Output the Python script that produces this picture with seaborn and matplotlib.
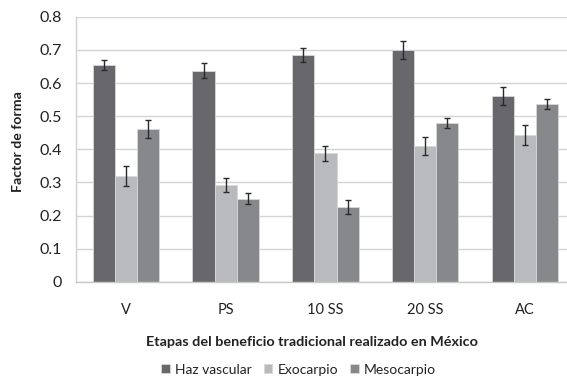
import numpy as np
import pandas as pd
import matplotlib
matplotlib.use("Agg")
import matplotlib.pyplot as plt
import seaborn as sns

etapas = ["V", "PS", "10 SS", "20 SS", "AC"]
tejidos = ["Haz vascular", "Exocarpio", "Mesocarpio"]

haz_vascular = [0.654, 0.637, 0.684, 0.700, 0.562]
exocarpio = [0.319, 0.292, 0.388, 0.410, 0.442]
mesocarpio = [0.460, 0.251, 0.226, 0.478, 0.537]

err_haz = [0.014, 0.022, 0.021, 0.027, 0.027]
err_exo = [0.030, 0.022, 0.023, 0.028, 0.030]
err_meso = [0.027, 0.016, 0.020, 0.015, 0.015]

colores = ["#68686c", "#b9babd", "#87888c"]

sns.set_theme(style="white")
plt.rcParams["font.family"] = ["Lato", "DejaVu Sans"]

df = pd.DataFrame({
    "etapa": etapas * 3,
    "tejido": sum([[t] * len(etapas) for t in tejidos], []),
    "valor": haz_vascular + exocarpio + mesocarpio,
})
errores = err_haz + err_exo + err_meso

fig = plt.figure(figsize=(5.67, 3.79), dpi=100)
# plot area runs slightly past the right edge of the figure
ax = fig.add_axes([0.134, 0.256, 0.880, 0.70])

sns.barplot(data=df, x="etapa", y="valor", hue="tejido", order=etapas,
            hue_order=tejidos, palette=colores, width=0.665, errorbar=None,
            edgecolor="#d8d8d8", linewidth=0.6, saturation=1, ax=ax, zorder=2)

# error bars centred on each drawn bar
for patch, v, e in zip(ax.patches[:15], df["valor"], errores):
    cx = patch.get_x() + patch.get_width() / 2
    ax.errorbar(cx, patch.get_height(), yerr=e, fmt="none", ecolor="#2a2a2a",
                elinewidth=1.0, capsize=2.2, capthick=1.0, zorder=3)

ax.set_ylim(0, 0.8)
ax.set_xlim(-0.5, len(etapas) - 0.5)
ax.set_yticks(np.arange(0, 0.81, 0.1))
ax.set_yticklabels(["0"] + [f"{v:.1f}" for v in np.arange(0.1, 0.81, 0.1)])
ax.yaxis.grid(True, color="#d4d4d4", linewidth=1.0, zorder=0)
ax.set_axisbelow(True)

for s in ["top", "right"]:
    ax.spines[s].set_visible(False)
ax.spines["left"].set_color("#d0d0d0")
ax.spines["bottom"].set_color("#c8c8c8")
ax.spines["left"].set_linewidth(1.0)
ax.spines["bottom"].set_linewidth(1.0)

ax.tick_params(axis="y", length=0, labelsize=11.5, colors="#222222", pad=10)
ax.tick_params(axis="x", which="major", length=0, labelsize=10.5,
               colors="#222222", pad=15)
ax.set_xticks(np.arange(-0.5, len(etapas), 1.0), minor=True)
ax.tick_params(axis="x", which="minor", length=5, color="#c8c8c8", width=1.0)

ax.set_xlabel("Etapas del beneficio tradicional realizado en México",
              fontsize=10.4, fontweight="bold", color="#222222")
ax.xaxis.set_label_coords(0.473, -0.205)
ax.set_ylabel("Factor de forma", fontsize=10.2, fontweight="bold",
              color="#222222")
ax.yaxis.set_label_coords(-0.104, 0.528)

handles, labels = ax.get_legend_handles_labels()
ax.legend_.remove()
fig.legend(handles, labels, loc="center", bbox_to_anchor=(0.527, 0.025),
           ncol=3, frameon=False, fontsize=10, handlelength=0.6,
           handleheight=0.6, handletextpad=0.4, columnspacing=0.85,
           labelcolor="#222222")

fig.savefig("out.png", dpi=100, facecolor="white")
